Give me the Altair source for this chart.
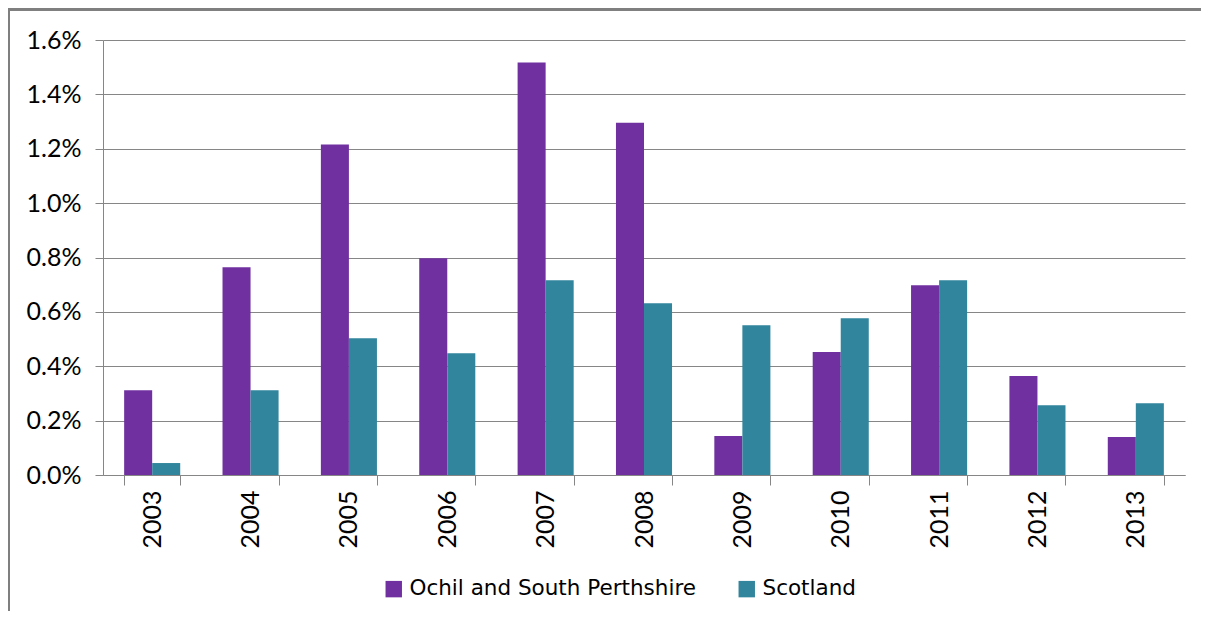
import altair as alt
import pandas as pd

years = ["2003", "2004", "2005", "2006", "2007", "2008", "2009", "2010", "2011", "2012", "2013"]
series_names = ["Ochil and South Perthshire", "Scotland"]
ochil = [0.312, 0.764, 1.216, 0.797, 1.517, 1.296, 0.143, 0.452, 0.698, 0.364, 0.140]
scotland = [0.044, 0.312, 0.503, 0.448, 0.716, 0.632, 0.551, 0.577, 0.716, 0.257, 0.264]
y_ticks = [0.0, 0.2, 0.4, 0.6, 0.8, 1.0, 1.2, 1.4, 1.6]
colors = ["#7030A0", "#31859C"]

rows = []
for i, y in enumerate(years):
    rows.append({"year": y, "series": series_names[0], "value": ochil[i]})
    rows.append({"year": y, "series": series_names[1], "value": scotland[i]})
df = pd.DataFrame(rows)

FONT = "Lato"
GRID = "#868686"

bars = alt.Chart(df).mark_bar().encode(
    x=alt.X("year:N", sort=years, title=None,
            scale=alt.Scale(paddingInner=0.43, paddingOuter=0.215),
            axis=alt.Axis(labelAngle=-90, labelFontSize=25, labelFont=FONT, labelColor="#000000",
                          labelPadding=5, tickSize=10, tickBand="extent", tickColor=GRID,
                          domainColor=GRID, labelBaseline="middle", labelAlign="right")),
    xOffset=alt.XOffset("series:N", sort=series_names),
    y=alt.Y("value:Q", title=None,
            scale=alt.Scale(domain=[0, 1.6], nice=False),
            axis=alt.Axis(values=y_ticks, labelExpr="format(datum.value, '.1f') + '%'",
                          labelFontSize=25, labelFont=FONT, labelColor="#000000",
                          tickSize=8, labelPadding=14, tickColor=GRID, domainColor=GRID,
                          gridColor=GRID, gridWidth=1)),
    color=alt.Color("series:N", sort=series_names, title=None,
                    scale=alt.Scale(domain=series_names, range=colors),
                    legend=alt.Legend(orient="none", legendX=280, legendY=538, direction="horizontal",
                                      symbolType="square", symbolSize=270, symbolStrokeWidth=0,
                                      labelFontSize=21.5, labelFont="DejaVu Sans", labelColor="#000000",
                                      labelLimit=0, columnPadding=40, labelOffset=5)),
)

frame_top = alt.Chart(df).mark_rule(color="#7f7f7f", strokeWidth=2.5).encode(
    x=alt.value(-95), x2=alt.value(1200), y=alt.value(-31)
)
frame_left = alt.Chart(df).mark_rule(color="#7f7f7f", strokeWidth=2.5).encode(
    x=alt.value(-94.5), y=alt.value(-31), y2=alt.value(620)
)

chart = alt.layer(bars, frame_top, frame_left).properties(
    width=1082, height=435,
    autosize=alt.AutoSizeParams(type="none"),
    padding={"left": 95, "top": 32, "right": 16, "bottom": 136},
    background="#ffffff",
).configure_view(stroke=None)

chart.save("out.html", embed_options={"renderer": "svg", "actions": False})
